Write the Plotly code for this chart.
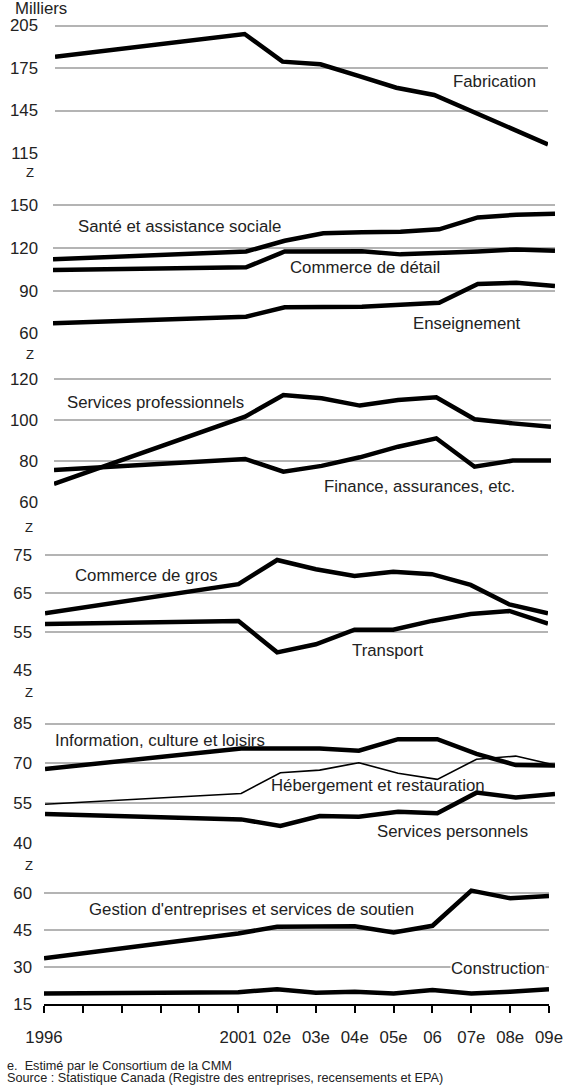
import plotly.graph_objects as go

W, H = 570, 1085

years = [1996, 2001, 2002, 2003, 2004, 2005, 2006, 2007, 2008, 2009]

fabrication = [183, 199, 179.5, 177.6, 169.4, 161.1, 156, 144.2, 132.9, 121.1]
sante = [112, 117.5, 125.1, 130.3, 131, 131.4, 133.1, 141.5, 143.4, 144.1]
commerce_detail = [104.5, 106.4, 117.5, 117.5, 117.7, 115.5, 116.2, 117.5, 119, 118]
enseignement = [67, 71.7, 78.3, 78.3, 78.6, 80, 81.5, 94.7, 95.6, 93.3]
services_pro = [68.7, 101.6, 112.2, 110.6, 107, 109.7, 111.1, 100.3, 98.3, 96.7]
finance = [75.5, 80.9, 74.7, 77.5, 81.7, 86.9, 91, 77.1, 80.1, 80.1]
commerce_gros = [59.8, 67.4, 73.7, 71.3, 69.5, 70.6, 70, 67.2, 62.1, 59.8]
transport = [57, 57.8, 49.6, 51.7, 55.5, 55.5, 57.8, 59.6, 60.4, 57.1]
information = [67.8, 75.6, 75.6, 75.6, 74.7, 79.1, 79.1, 73.5, 69.3, 69.1]
hebergement = [54.5, 58.6, 66.4, 67.4, 70.2, 66.2, 63.9, 71.5, 72.7, 69.3]
services_perso = [50.8, 48.8, 46.3, 50.1, 49.8, 51.7, 51.1, 58.9, 57.1, 58.4]
gestion = [33.6, 43.7, 46.4, 46.6, 46.6, 44.1, 46.8, 61.1, 58, 58.9]
construction = [19.3, 19.8, 21, 19.6, 20, 19.3, 20.7, 19.3, 20, 21]

x_tickvals = list(range(1996, 2010))
x_ticktext = ["1996", "", "", "", "", "2001", "02e", "03e", "04e", "05e",
              "06", "07e", "08e", "09e"]

p1_ticks = [115, 145, 175, 205]
p2_ticks = [60, 90, 120, 150]
p3_ticks = [60, 80, 100, 120]
p4_ticks = [45, 55, 65, 75]
p5_ticks = [40, 55, 70, 85]
p6_ticks = [15, 30, 45, 60]

FONT = "Liberation Sans, Arial, sans-serif"
FS = 16.8
TXT = "#222222"
GRID = "#b4b4b4"

# panel layout: (left px, right px, top tick px, bottom tick px, label right edge px, ticks)
panels = [
    (55, 548, 25.5, 153.0, 39, p1_ticks),
    (53, 555, 205.3, 333.3, 39, p2_ticks),
    (54, 551, 379.0, 501.7, 39, p3_ticks),
    (45, 548, 555.0, 670.0, 33, p4_ticks),
    (45, 555, 723.5, 842.7, 33, p5_ticks),
    (44, 549, 893.3, 1004.0, 33, p6_ticks),
]

series = [
    (1, fabrication, 4.5),
    (2, sante, 4.5),
    (2, commerce_detail, 4.5),
    (2, enseignement, 4.5),
    (3, services_pro, 4.5),
    (3, finance, 4.5),
    (4, commerce_gros, 4.5),
    (4, transport, 4.5),
    (5, information, 4.5),
    (5, hebergement, 1.6),
    (5, services_perso, 4.5),
    (6, gestion, 4.5),
    (6, construction, 4.5),
]

fig = go.Figure()
for pi, ys, lw in series:
    sfx = "" if pi == 1 else str(pi)
    fig.add_trace(go.Scatter(x=years, y=ys, mode="lines", xaxis="x" + sfx,
                             yaxis="y" + sfx,
                             line=dict(color="black", width=lw), hoverinfo="skip"))

def py(px):
    return 1 - px / H

PAD_TOP = 8
for i, (l, r, ptop, pbot, lab_r, ticks) in enumerate(panels, start=1):
    sfx = "" if i == 1 else str(i)
    lo, hi = ticks[0], ticks[-1]
    upp = (hi - lo) / (pbot - ptop)
    top_px = ptop - PAD_TOP
    rng_hi = hi + PAD_TOP * upp
    last = i == 6
    fig.layout["xaxis" + sfx] = dict(
        domain=[l / W, r / W], range=[1996, 2009], anchor="y" + sfx,
        showgrid=False, zeroline=False, visible=last, automargin=False,
        showline=last, linecolor="black", linewidth=1.5,
        ticks="outside" if last else "", ticklen=7, tickwidth=1.5, tickcolor="black",
        tickvals=x_tickvals, ticktext=x_ticktext, ticklabelstandoff=10, tickangle=0,
        tickfont=dict(family=FONT, size=FS, color=TXT),
    )
    fig.layout["yaxis" + sfx] = dict(
        domain=[py(pbot), py(top_px)], range=[lo, rng_hi], anchor="x" + sfx,
        tickvals=ticks, showgrid=True, gridcolor=GRID, gridwidth=2,
        zeroline=False, showline=False, ticks="", automargin=False,
        ticklabelstandoff=int(round(l - lab_r)),
        tickfont=dict(family=FONT, size=FS, color=TXT),
    )

labels = [
    ("Fabrication", 494, 81.7),
    ("Santé et assistance sociale", 179, 226.7),
    ("Commerce de détail", 365, 267.3),
    ("Enseignement", 467, 323.3),
    ("Services professionnels", 155, 402.3),
    ("Finance, assurances, etc.", 419, 486.7),
    ("Commerce de gros", 146, 575),
    ("Transport", 388, 650),
    ("Information, culture et loisirs", 160, 740),
    ("Hébergement et restauration", 378, 785),
    ("Services personnels", 452, 831.7),
    ("Gestion d'entreprises et services de soutien", 251, 909.3),
]
ann = []
for t, x, y in labels:
    ann.append(dict(text=t, x=x / W, y=py(y), xref="paper", yref="paper",
                    showarrow=False, xanchor="center", yanchor="middle",
                    font=dict(family=FONT, size=FS, color=TXT)))
ann.append(dict(text="Construction", x=498 / W, y=py(968.3), xref="paper", yref="paper",
                showarrow=False, xanchor="center", yanchor="middle", bgcolor="white",
                borderpad=0, font=dict(family=FONT, size=FS, color=TXT)))

# axis break markers
for xb, yb in [(30, 163.5), (30, 345), (29, 518), (28.5, 683), (28.5, 856)]:
    ann.append(dict(text="Z", x=xb / W, y=py(yb), xref="paper", yref="paper",
                    showarrow=False, xanchor="center", yanchor="top",
                    font=dict(family=FONT, size=13, color=TXT)))

ann.append(dict(text="Milliers", x=13 / W, y=py(8.5), xref="paper", yref="paper",
                showarrow=False, xanchor="left", yanchor="middle",
                font=dict(family=FONT, size=FS, color=TXT)))
ann.append(dict(text="e.  Estimé par le Consortium de la CMM", x=5 / W, y=py(1065.5),
                xref="paper", yref="paper", showarrow=False, xanchor="left",
                yanchor="middle", font=dict(family=FONT, size=12.7, color=TXT)))
ann.append(dict(text="Source : Statistique Canada (Registre des entreprises, recensements et EPA)",
                x=5 / W, y=py(1077.5), xref="paper", yref="paper", showarrow=False,
                xanchor="left", yanchor="middle",
                font=dict(family=FONT, size=12.7, color=TXT)))

fig.update_layout(template="none", width=W, height=H,
                  margin=dict(l=0, r=0, t=0, b=0, pad=0),
                  paper_bgcolor="white", plot_bgcolor="white", showlegend=False,
                  annotations=ann, font=dict(family=FONT, size=FS, color=TXT))

fig.write_html("out.html", config={"displayModeBar": False},
               post_script="document.body.style.margin='0';document.body.style.padding='0';")
